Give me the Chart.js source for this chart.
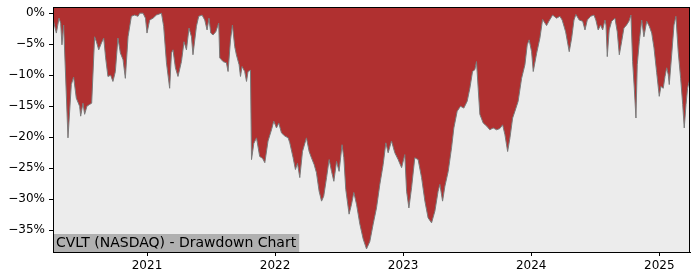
<!DOCTYPE html>
<html>
<head>
<meta charset="utf-8">
<script src="https://cdn.jsdelivr.net/npm/chart.js@4.4.1/dist/chart.umd.min.js"></script>
<style>
  html, body { margin: 0; padding: 0; background: #fff; }
  #wrap { width: 700px; height: 280px; }
</style>
</head>
<body>
<div id="wrap"><canvas id="chartDD"></canvas></div>
<script>
/* CVLT drawdown — time as decimal years, drawdown in % */
const dates = [
  2020.268, 2020.292, 2020.313, 2020.326, 2020.336, 2020.349, 2020.383, 2020.409, 2020.427, 2020.448,
  2020.474, 2020.482, 2020.500, 2020.513, 2020.531, 2020.552, 2020.568, 2020.591, 2020.605, 2020.623,
  2020.644, 2020.662, 2020.677, 2020.695, 2020.716, 2020.734, 2020.753, 2020.773, 2020.792, 2020.813,
  2020.831, 2020.852, 2020.878, 2020.904, 2020.930, 2020.943, 2020.969, 2020.988, 2021.000, 2021.021,
  2021.047, 2021.073, 2021.113, 2021.130, 2021.152, 2021.177, 2021.191, 2021.203, 2021.222, 2021.242,
  2021.269, 2021.289, 2021.308, 2021.328, 2021.347, 2021.359, 2021.386, 2021.404, 2021.430, 2021.451,
  2021.469, 2021.484, 2021.498, 2021.516, 2021.537, 2021.560, 2021.568, 2021.594, 2021.620, 2021.633,
  2021.652, 2021.667, 2021.685, 2021.698, 2021.719, 2021.730, 2021.742, 2021.763, 2021.777, 2021.789,
  2021.808, 2021.816, 2021.834, 2021.855, 2021.880, 2021.902, 2021.920, 2021.945, 2021.972, 2021.990,
  2022.011, 2022.029, 2022.050, 2022.076, 2022.102, 2022.115, 2022.141, 2022.159, 2022.175, 2022.193,
  2022.214, 2022.245, 2022.266, 2022.284, 2022.305, 2022.323, 2022.344, 2022.363, 2022.380, 2022.402,
  2022.422, 2022.441, 2022.459, 2022.480, 2022.500, 2022.523, 2022.537, 2022.552, 2022.578, 2022.597,
  2022.615, 2022.636, 2022.662, 2022.688, 2022.714, 2022.740, 2022.766, 2022.792, 2022.818, 2022.844,
  2022.865, 2022.883, 2022.909, 2022.935, 2022.961, 2022.988, 2023.013, 2023.027, 2023.045, 2023.066,
  2023.091, 2023.117, 2023.144, 2023.170, 2023.195, 2023.222, 2023.248, 2023.273, 2023.287, 2023.308,
  2023.326, 2023.352, 2023.378, 2023.396, 2023.422, 2023.448, 2023.474, 2023.500, 2023.521, 2023.542,
  2023.560, 2023.573, 2023.586, 2023.599, 2023.625, 2023.652, 2023.677, 2023.703, 2023.730, 2023.755,
  2023.777, 2023.795, 2023.816, 2023.834, 2023.855, 2023.873, 2023.898, 2023.925, 2023.951, 2023.969,
  2023.984, 2024.003, 2024.016, 2024.042, 2024.068, 2024.089, 2024.120, 2024.138, 2024.167, 2024.198,
  2024.224, 2024.242, 2024.269, 2024.297, 2024.316, 2024.334, 2024.349, 2024.375, 2024.402, 2024.420,
  2024.438, 2024.464, 2024.490, 2024.505, 2024.523, 2024.542, 2024.558, 2024.576, 2024.584, 2024.594,
  2024.609, 2024.628, 2024.654, 2024.672, 2024.688, 2024.706, 2024.724, 2024.745, 2024.763, 2024.779,
  2024.792, 2024.805, 2024.818, 2024.828, 2024.844, 2024.863, 2024.880, 2024.902, 2024.922, 2024.941,
  2024.959, 2024.980, 2025.000, 2025.013, 2025.031, 2025.045, 2025.058, 2025.070, 2025.078, 2025.097,
  2025.115, 2025.130, 2025.148, 2025.167, 2025.183, 2025.195, 2025.209, 2025.221, 2025.234, 2025.240,
];

const drawdown = [
  -1.1, -3.2, -0.8, -1.6, -5.1, -1.9, -20.1, -11.5, -10.3, -13.7,
  -15.0, -16.6, -14.5, -16.3, -15.0, -14.7, -14.5, -3.8, -4.6, -5.9,
  -4.8, -4.0, -7.2, -10.2, -10.0, -11.0, -9.4, -4.0, -6.4, -7.5,
  -10.5, -3.8, -0.5, -0.3, -0.5, 0, 0, -0.8, -3.2, -1.1,
  -0.8, -0.3, 0, -2.1, -8.0, -12.1, -6.4, -5.9, -8.8, -10.2,
  -7.8, -4.6, -5.9, -2.4, -3.8, -6.7, -2.1, -0.5, -0.3, -1.1,
  -2.7, -0.8, -3.2, -3.5, -3.0, -1.6, -7.2, -7.8, -8.0, -9.4,
  -4.3, -1.9, -5.4, -6.7, -8.3, -10.2, -8.6, -9.4, -11.0, -9.4,
  -9.2, -23.6, -21.0, -20.1, -23.1, -23.4, -24.1, -20.6, -18.8, -17.4,
  -18.5, -17.7, -19.3, -19.8, -20.1, -20.9, -23.3, -25.2, -24.2, -26.5,
  -22.3, -20.1, -22.3, -23.3, -24.4, -25.7, -28.7, -30.3, -29.5, -26.5,
  -23.6, -25.5, -27.1, -23.9, -25.5, -21.2, -23.3, -28.4, -32.4, -30.8,
  -28.9, -30.8, -34.0, -36.4, -38.0, -36.8, -34.0, -31.4, -27.6, -24.4,
  -20.9, -22.5, -20.6, -22.5, -23.6, -24.9, -22.8, -28.7, -31.4, -28.1,
  -23.3, -23.6, -26.5, -30.3, -33.0, -33.8, -31.9, -28.7, -27.6, -30.3,
  -27.9, -25.5, -21.7, -18.5, -15.8, -15.0, -15.3, -14.2, -12.1, -9.4,
  -9.1, -7.8, -12.1, -16.3, -17.7, -18.2, -18.8, -18.5, -18.8, -18.6,
  -18.0, -19.6, -22.3, -20.1, -16.9, -15.8, -14.2, -10.5, -8.3, -5.1,
  -4.3, -6.2, -9.4, -6.5, -4.0, -1.0, -2.0, -1.3, -0.3, -0.8,
  -0.5, -1.1, -3.0, -6.2, -4.0, -1.1, -0.2, -1.1, -1.3, -2.7,
  -1.1, -0.5, -0.3, -1.1, -2.7, -1.9, -2.7, -1.1, -1.9, -7.0,
  -2.7, -1.3, -0.8, -3.0, -6.7, -4.6, -2.4, -1.9, -1.3, -0.3,
  -7.8, -12.1, -16.9, -8.3, -4.6, -1.1, -3.8, -1.3, -2.1, -3.2,
  -5.6, -9.6, -13.4, -11.8, -12.1, -10.2, -8.8, -9.9, -11.5, -6.7,
  -1.9, -0.5, -6.2, -10.5, -14.7, -18.5, -14.7, -12.1, -11.0, -10.5,
];

const yearTicks = [2021, 2022, 2023, 2024, 2025];
const pctTicks  = [0, -5, -10, -15, -20, -25, -30, -35];
const chartTitle = 'CVLT (NASDAQ) - Drawdown Chart';

const FONT = "'DejaVu Sans', sans-serif";
const fmtPct = v => (v < 0 ? '\u2212' + Math.abs(v) : v) + '%';

/* plot background + frame + caption box */
const framePlugin = {
  id: 'frame',
  beforeDatasetsDraw(chart) {
    const { ctx, chartArea: a } = chart;
    ctx.save();
    ctx.fillStyle = '#ececec';
    ctx.fillRect(a.left, a.top, a.right - a.left, a.bottom - a.top);
    ctx.restore();
  },
  afterDraw(chart) {
    const { ctx, chartArea: a } = chart;
    ctx.save();
    ctx.font = '14px ' + FONT;
    const w = ctx.measureText(chartTitle).width;
    ctx.fillStyle = '#b0b0b0';
    ctx.fillRect(a.left, a.bottom - 18, w + 6, 18);
    ctx.fillStyle = '#000';
    ctx.textBaseline = 'middle';
    ctx.fillText(chartTitle, a.left + 3, a.bottom - 9);
    ctx.strokeStyle = '#000';
    ctx.lineWidth = 1;
    ctx.strokeRect(a.left + 0.5, a.top + 0.5, a.right - a.left - 1, a.bottom - a.top);
    ctx.restore();
  },
};

new Chart(document.getElementById('chartDD'), {
  type: 'line',
  data: {
    datasets: [{
      label: 'Drawdown',
      data: dates.map((d, i) => ({ x: d, y: drawdown[i] })),
      borderColor: '#7a7a7a',
      borderWidth: 1,
      backgroundColor: '#b03030',
      fill: 'end',
      pointRadius: 0,
      tension: 0,
    }],
  },
  options: {
    responsive: true,
    maintainAspectRatio: false,
    animation: false,
    layout: { padding: { top: 7, right: 10, left: 0, bottom: 0 } },
    plugins: { legend: { display: false }, tooltip: { enabled: false } },
    scales: {
      x: {
        type: 'linear',
        min: 2020.266,
        max: 2025.240,
        afterBuildTicks: s => { s.ticks = yearTicks.map(v => ({ value: v })); },
        afterFit: s => { s.height = 28; s.paddingLeft = 0; s.paddingRight = 0; },
        grid: { drawOnChartArea: false, drawTicks: true, tickLength: 4, color: '#000' },
        border: { display: true, color: '#000' },
        ticks: { color: '#000', padding: 3, maxRotation: 0, font: { family: FONT, size: 12 }, callback: v => String(v) },
      },
      y: {
        min: -38.5,
        max: 1.0,
        afterBuildTicks: s => { s.ticks = pctTicks.map(v => ({ value: v })); },
        afterFit: s => { s.width = 53; s.paddingTop = 0; s.paddingBottom = 0; },
        grid: { drawOnChartArea: false, drawTicks: true, tickLength: 4, color: '#000' },
        border: { display: true, color: '#000' },
        ticks: { color: '#000', padding: 4, font: { family: FONT, size: 12 }, callback: v => fmtPct(v) },
      },
    },
  },
  plugins: [framePlugin],
});
</script>
</body>
</html>
